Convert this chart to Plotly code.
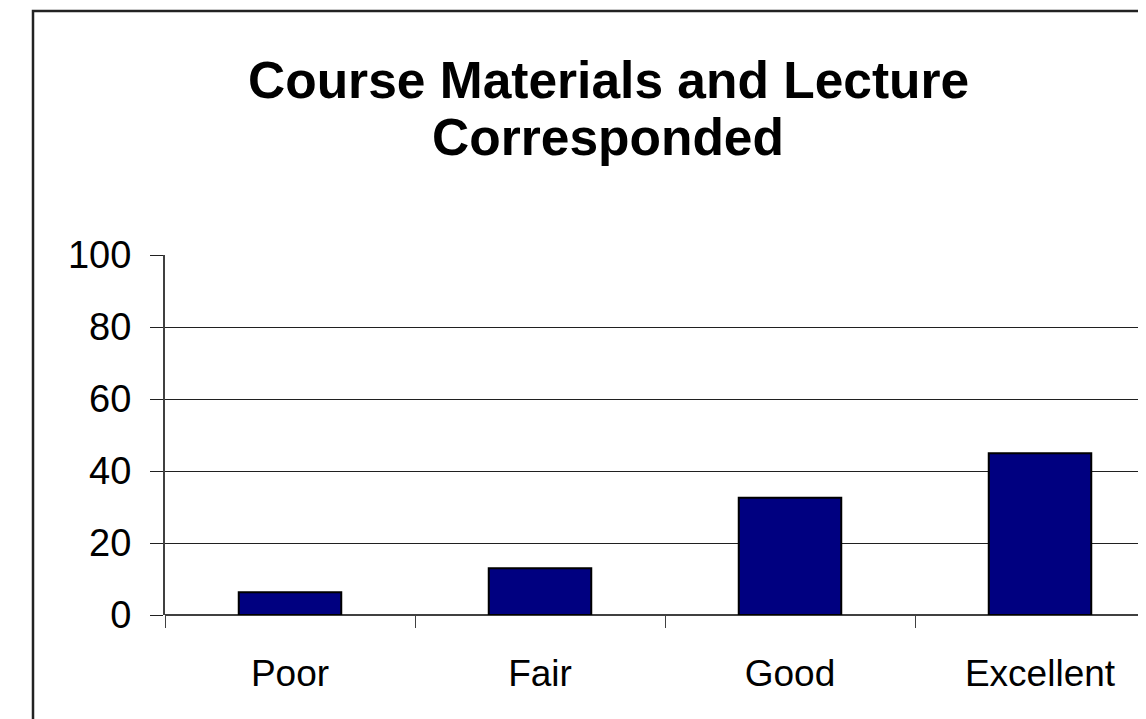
import plotly.graph_objects as go

categories = ["Poor", "Fair", "Good", "Excellent"]
values = [6.3, 13.0, 32.6, 44.9]
y_ticks = [0, 20, 40, 60, 80, 100]
title_lines = ["Course Materials and Lecture", "Corresponded"]

OFF = 8  # default page body margin
W, H = 1146 - OFF, 719 - OFF
# target screen pixels
AX_LEFT, Y0_PX, Y100_PX = 165, 615, 255
L = AX_LEFT - OFF
T = Y100_PX - OFF
plot_h = Y0_PX - Y100_PX
B = H - T - plot_h
plot_w = W - L

def px_x(px):
    return (px - OFF - L) / plot_w

def px_y(py):
    return (Y0_PX - py) / plot_h

FONT = "Liberation Sans, Arial, sans-serif"

fig = go.Figure(go.Bar(
    x=categories, y=values,
    marker=dict(color="#000080", line=dict(color="#000000", width=2)),
    width=0.41,
))

fig.update_layout(
    width=W, height=H,
    margin=dict(l=L, r=0, t=T, b=B, pad=0),
    paper_bgcolor="white", plot_bgcolor="white",
    showlegend=False,
    font=dict(family=FONT, color="black"),
    xaxis=dict(
        range=[-0.5, -0.5 + plot_w / 250.0],
        showgrid=False, showline=False, zeroline=False,
        ticks="outside", ticklen=12, tickcolor="#404040", tickwidth=1,
        tickson="boundaries",
        tickfont=dict(size=37, family=FONT),
        ticklabelstandoff=33,
    ),
    yaxis=dict(
        range=[0, 100], tickvals=y_ticks,
        showgrid=True, gridcolor="#202020", gridwidth=1,
        showline=True, linecolor="#404040", linewidth=2,
        zeroline=True, zerolinecolor="#404040", zerolinewidth=2,
        ticks="outside", ticklen=13, tickcolor="#202020", tickwidth=1,
        tickfont=dict(size=38, family=FONT),
        ticklabelstandoff=11,
    ),
)

for i, line in enumerate(title_lines):
    fig.add_annotation(text="<b>" + line + "</b>", xref="paper", yref="paper",
                       x=px_x(608), y=px_y(80 + 57 * i), xanchor="center", yanchor="middle",
                       showarrow=False,
                       font=dict(size=51.5, family=FONT, color="black"))

fig.add_shape(type="rect", xref="paper", yref="paper",
              x0=px_x(33), x1=px_x(1250), y0=px_y(900), y1=px_y(11),
              line=dict(color="#222222", width=2.5), fillcolor="rgba(0,0,0,0)", layer="above")

fig.write_html("out.html")
